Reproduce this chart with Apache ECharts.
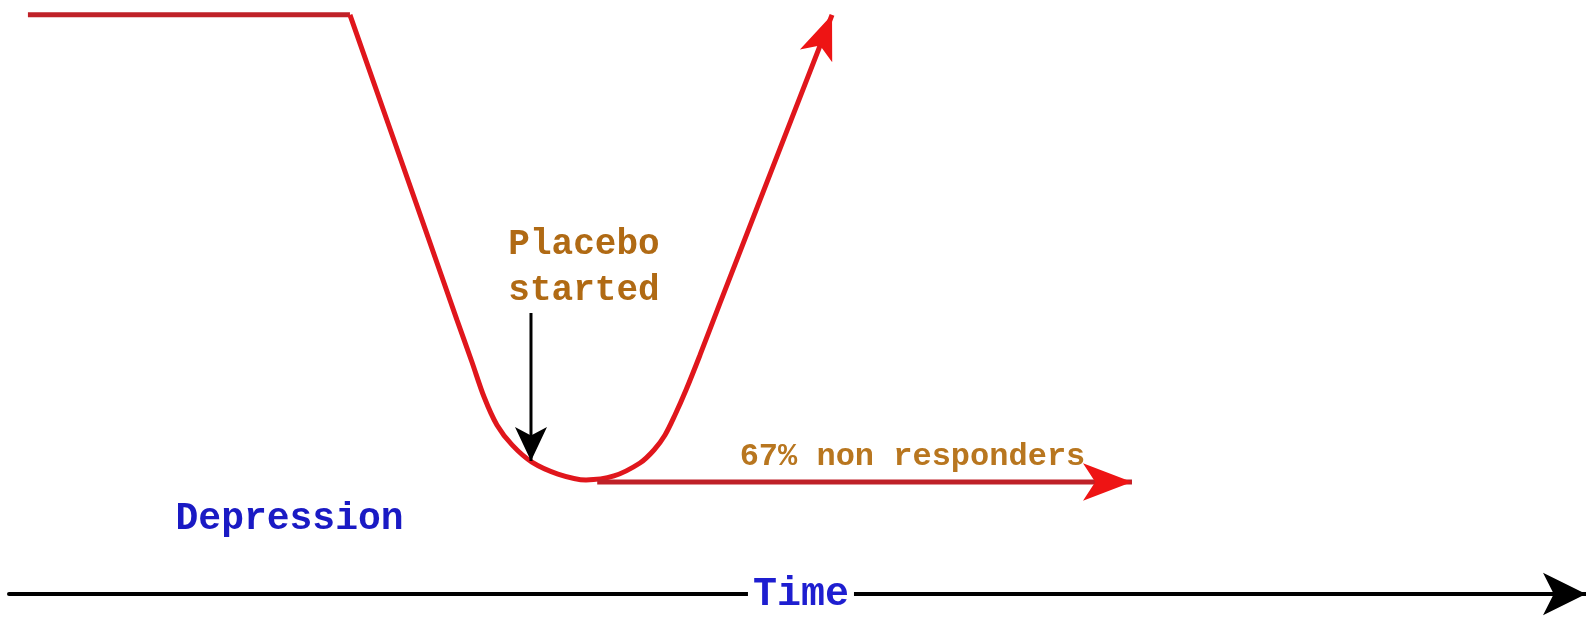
<!DOCTYPE html>
<html>
<head>
<meta charset="utf-8">
<script src="https://cdn.jsdelivr.net/npm/echarts@6/dist/echarts.min.js"></script>
<style>
  html, body { margin: 0; padding: 0; background: #fff; }
  #chart { width: 1586px; height: 618px; }
</style>
</head>
<body>
<div id="chart"></div>
<script>
// x = time (0..100 along the bottom axis), y = mood (0..100)
const plateau = [[1.2, 97.5], [21.62, 97.5]]
const responders = [[21.62, 97.5], [26.41, 61.3], [28.41, 46.1], [29.35, 39.1], [30.12, 33.2], [30.94, 28.45],
  [31.9, 25.1], [33.16, 22.2], [34.81, 20.2], [36.59, 19.2], [38.36, 19.87], [40.01, 22.05], [40.9, 24.24],
  [41.6, 26.77], [42.23, 30.13], [42.93, 34.34], [43.82, 40.24], [45.09, 49.0], [47.62, 66.3], [52.19, 97.5]]
const nonResponders = [[37.3, 18.85], [71.21, 18.85]]
const placeboStart = [[33.1, 47.3], [33.1, 22.4]]
const noteText = ['Placebo\nstarted', 'Depression', '67% non responders', 'Time']
const notePos = [[36.46, 54.9], [17.79, 12.5], [57.29, 23.1], [50.22, -0.2]]

const chart = echarts.init(document.getElementById('chart'))
const font = "'Courier New', 'Liberation Mono', monospace"

// put an arrow head on the last point of a line
function withArrow (pts, size, rotate, color) {
  return pts.map((p, i) => {
    if (i < pts.length - 1) return { value: p, symbol: 'none' }
    return {
      value: p,
      symbol: 'arrow',
      symbolSize: size,
      symbolRotate: rotate,
      itemStyle: { color: color, borderWidth: 0 }
    }
  })
}

const noteStyles = [
  { fontSize: 36, color: '#b06a14', lineHeight: 46 },
  { fontSize: 38, color: '#1a1ac4' },
  { fontSize: 32, color: '#b8761f' },
  { fontSize: 40, color: '#1e1ed0', backgroundColor: '#fff', padding: [0, 5] }
]

const option = {
  animation: false,
  backgroundColor: '#fff',
  grid: { left: 9, right: 0, top: 0, bottom: 24 },
  xAxis: {
    type: 'value',
    min: 0,
    max: 100,
    axisLine: {
      show: true,
      symbol: ['none', 'arrow'],
      symbolSize: [32, 43],
      lineStyle: { color: '#000', width: 4 }
    },
    axisTick: { show: false },
    axisLabel: { show: false },
    splitLine: { show: false }
  },
  yAxis: { type: 'value', min: 0, max: 100, show: false },
  series: [
    {
      type: 'line',
      data: plateau,
      symbol: 'none',
      silent: true,
      lineStyle: { color: '#bf2128', width: 5 }
    },
    {
      type: 'line',
      data: withArrow(responders, [26, 44], -21.3, '#ee1414'),
      smooth: 0.3,
      symbol: 'none',
      silent: true,
      clip: false,
      lineStyle: { color: '#e0161c', width: 5 }
    },
    {
      type: 'line',
      data: withArrow(nonResponders, [28, 49], -90, '#ee1414'),
      symbol: 'none',
      silent: true,
      lineStyle: { color: '#bf2128', width: 5 }
    },
    {
      type: 'line',
      data: withArrow(placeboStart, [24, 34], 180, '#000'),
      symbol: 'none',
      silent: true,
      z: 3,
      lineStyle: { color: '#000', width: 3 }
    },
    {
      type: 'scatter',
      symbolSize: 0,
      silent: true,
      clip: false,
      z: 5,
      itemStyle: { opacity: 1 },
      data: notePos.map((p, i) => ({
        value: p,
        label: Object.assign({
          show: true,
          position: 'inside',
          formatter: noteText[i],
          fontFamily: font,
          fontWeight: 'bold',
          align: 'center'
        }, noteStyles[i])
      }))
    }
  ]
}

chart.setOption(option)
</script>
</body>
</html>
